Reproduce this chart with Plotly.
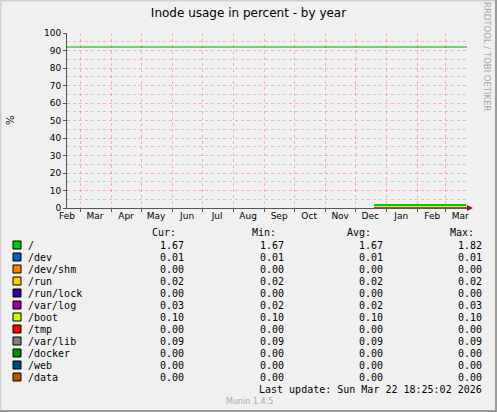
import plotly.graph_objects as go

# series (munin df_inode, yearly view)
names = ['/', '/dev', '/dev/shm', '/run', '/run/lock', '/var/log',
         '/boot', '/tmp', '/var/lib', '/docker', '/web', '/data']
colors = ['#00CC00', '#0066B3', '#FF8000', '#FFCC00', '#330099', '#990099',
          '#CCFF00', '#FF0000', '#808080', '#008F00', '#00487D', '#B35A00']

dates = ['2025-12-20', '2026-01-05', '2026-01-20', '2026-02-05',
         '2026-02-20', '2026-03-05', '2026-03-22']
values = {
    '/':         [1.70, 1.67, 1.67, 1.67, 1.67, 1.67, 1.67],
    '/dev':      [0.01, 0.01, 0.01, 0.01, 0.01, 0.01, 0.01],
    '/dev/shm':  [0.00, 0.00, 0.00, 0.00, 0.00, 0.00, 0.00],
    '/run':      [0.02, 0.02, 0.02, 0.02, 0.02, 0.02, 0.02],
    '/run/lock': [0.00, 0.00, 0.00, 0.00, 0.00, 0.00, 0.00],
    '/var/log':  [0.03, 0.02, 0.02, 0.02, 0.02, 0.02, 0.03],
    '/boot':     [0.10, 0.10, 0.10, 0.10, 0.10, 0.10, 0.10],
    '/tmp':      [0.00, 0.00, 0.00, 0.00, 0.00, 0.00, 0.00],
    '/var/lib':  [0.09, 0.09, 0.09, 0.09, 0.09, 0.09, 0.09],
    '/docker':   [0.00, 0.00, 0.00, 0.00, 0.00, 0.00, 0.00],
    '/web':      [0.00, 0.00, 0.00, 0.00, 0.00, 0.00, 0.00],
    '/data':     [0.00, 0.00, 0.00, 0.00, 0.00, 0.00, 0.00],
}

cur = ['1.67', '0.01', '0.00', '0.02', '0.00', '0.03', '0.10', '0.00', '0.09', '0.00', '0.00', '0.00']
mins = ['1.67', '0.01', '0.00', '0.02', '0.00', '0.02', '0.10', '0.00', '0.09', '0.00', '0.00', '0.00']
avgs = ['1.67', '0.01', '0.00', '0.02', '0.00', '0.02', '0.10', '0.00', '0.09', '0.00', '0.00', '0.00']
maxs = ['1.82', '0.01', '0.00', '0.02', '0.00', '0.03', '0.10', '0.00', '0.09', '0.00', '0.00', '0.00']

warning = 92
month_starts = ['2025-03-01', '2025-04-01', '2025-05-01', '2025-06-01', '2025-07-01',
                '2025-08-01', '2025-09-01', '2025-10-01', '2025-11-01', '2025-12-01',
                '2026-01-01', '2026-02-01', '2026-03-01']
label_days = ['2025-02-16', '2025-03-16', '2025-04-16', '2025-05-16', '2025-06-16',
              '2025-07-16', '2025-08-16', '2025-09-16', '2025-10-16', '2025-11-16',
              '2025-12-16', '2026-01-16', '2026-02-16', '2026-03-16']
x_range = ['2025-02-16 00:00', '2026-03-22 18:25']

W, H = 497, 412
L, R, T, B = 67, 30, 33, 204
PW, PH = W - L - R, H - T - B


def px(x):
    return (x - L) / PW


def py(y):
    return (H - B - y) / PH


MONO = 'DejaVu Sans Mono'
SANS = 'DejaVu Sans'

fig = go.Figure()
for n, c in zip(names, colors):
    fig.add_trace(go.Scatter(x=dates, y=values[n], mode='lines', name=n,
                             line=dict(color=c, width=2), showlegend=False))

# invisible helper trace so the label axis is drawn
fig.add_trace(go.Scatter(x=dates, y=values['/'], xaxis='x2', mode='lines',
                         opacity=0, hoverinfo='skip', showlegend=False))

fig.add_hline(y=warning, line=dict(color='#00AA00', width=1))

grid_red = 'rgba(255,90,90,0.45)'
fig.update_layout(
    width=W, height=H,
    margin=dict(l=L, r=R, t=T, b=B),
    paper_bgcolor='#F0F0F0', plot_bgcolor='#F0F0F0',
    font=dict(family=SANS, size=9, color='#000'),
    title=dict(text='Inode usage in percent - by year', x=0.5, xanchor='center',
               y=1 - 13 / H, yanchor='middle', font=dict(family=SANS, size=12)),
    xaxis=dict(type='date', range=x_range, tickvals=month_starts, showticklabels=False,
               showgrid=True, gridcolor=grid_red, griddash='dot', gridwidth=1,
               ticks='outside', ticklen=3, tickcolor='#555',
               showline=True, linecolor='#555', linewidth=1, zeroline=False),
    xaxis2=dict(type='date', matches='x', overlaying='x', anchor='y', side='bottom',
                tickvals=label_days, tickformat='%b', showgrid=False, ticks='',
                tickfont=dict(family=SANS, size=9), ticklabelstandoff=1),
    yaxis=dict(range=[0, 100], dtick=10, showgrid=True, gridcolor=grid_red,
               griddash='dot', gridwidth=1, ticks='outside', ticklen=3,
               tickcolor='#555', showline=True, linecolor='#555', linewidth=1,
               zeroline=False, tickfont=dict(family=SANS, size=9),
               minor=dict(dtick=5, showgrid=True, gridcolor='#C8C8C8',
                          griddash='dot', gridwidth=1)),
    hovermode=False,
)

ann = []
shapes = []


def label(text, x, y, size=10, family=MONO, color='#000', xanchor='left', angle=0):
    ann.append(dict(text=text, x=px(x), y=py(y), xref='paper', yref='paper',
                    xanchor=xanchor, yanchor='middle', showarrow=False, textangle=angle,
                    font=dict(family=family, size=size, color=color)))


# axis arrows
shapes.append(dict(type='path', xref='paper', yref='paper',
                   path=f'M {px(64)} {py(33)} L {px(70)} {py(33)} L {px(67)} {py(27)} Z',
                   fillcolor='#8B1A1A', line=dict(width=0)))
shapes.append(dict(type='path', xref='paper', yref='paper',
                   path=f'M {px(467)} {py(205)} L {px(467)} {py(211)} L {px(473)} {py(208)} Z',
                   fillcolor='#8B1A1A', line=dict(width=0)))

# y label and watermark
label('%', 10, 120, family=SANS, xanchor='center', angle=-90)
label('RRDTOOL / TOBI OETIKER', 487, 57, size=8.5, family=SANS, color='#AAAAAA',
      xanchor='center', angle=90)

# legend table
headers = [('Cur:', 150), ('Min:', 250), ('Avg:', 345), ('Max:', 448)]
for h, hx in headers:
    label(h, hx, 232)

cols = [(cur, 186), (mins, 286), (avgs, 385), (maxs, 484)]
for i, n in enumerate(names):
    ry = 245 + 12 * i
    shapes.append(dict(type='rect', xref='paper', yref='paper',
                       x0=px(13), x1=px(21), y0=py(ry - 4), y1=py(ry + 4),
                       fillcolor=colors[i], line=dict(color='#000', width=1)))
    label(n, 26, ry)
    for arr, cx in cols:
        label(arr[i], cx, ry, xanchor='right')

label('Last update: Sun Mar 22 18:25:02 2026', 484, 389, xanchor='right')
label('Munin 1.4.5', 249, 401, size=8, family=SANS, color='#AAAAAA', xanchor='center')

# image border
shapes.append(dict(type='line', xref='paper', yref='paper', x0=px(0), x1=px(W),
                   y0=py(0.5), y1=py(0.5), line=dict(color='#D0D0D0', width=2)))
shapes.append(dict(type='line', xref='paper', yref='paper', x0=px(0.5), x1=px(0.5),
                   y0=py(0), y1=py(H), line=dict(color='#D0D0D0', width=2)))
shapes.append(dict(type='line', xref='paper', yref='paper', x0=px(0), x1=px(W),
                   y0=py(H - 1), y1=py(H - 1), line=dict(color='#999999', width=2)))
shapes.append(dict(type='line', xref='paper', yref='paper', x0=px(W - 1), x1=px(W - 1),
                   y0=py(0), y1=py(H), line=dict(color='#999999', width=2)))

fig.update_layout(annotations=ann, shapes=shapes)

fig.write_html('out.html', config={'displayModeBar': False},
               post_script="document.body.style.margin='0';")
